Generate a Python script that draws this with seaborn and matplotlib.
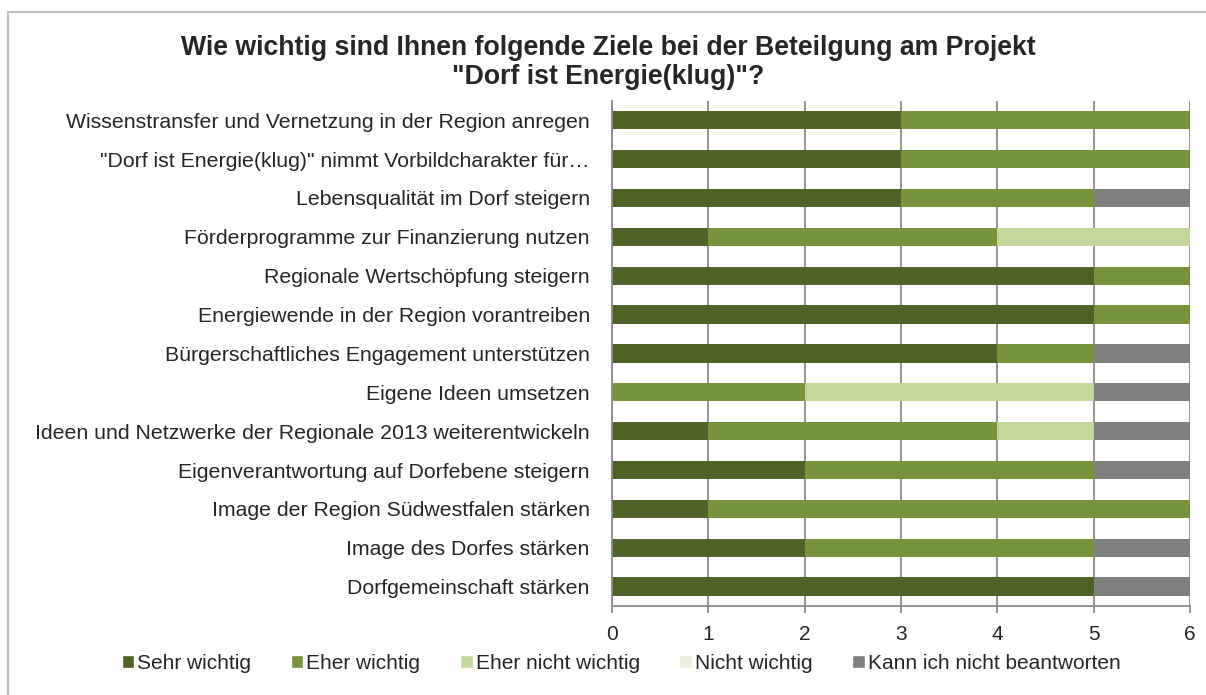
import numpy as np
import pandas as pd
import seaborn as sns
from matplotlib import pyplot as plt
from matplotlib.patches import Patch, Rectangle

goals = [
    'Wissenstransfer und Vernetzung in der Region anregen',
    '"Dorf ist Energie(klug)" nimmt Vorbildcharakter für…',
    'Lebensqualität im Dorf steigern',
    'Förderprogramme zur Finanzierung nutzen',
    'Regionale Wertschöpfung steigern',
    'Energiewende in der Region vorantreiben',
    'Bürgerschaftliches Engagement unterstützen',
    'Eigene Ideen umsetzen',
    'Ideen und Netzwerke der Regionale 2013 weiterentwickeln',
    'Eigenverantwortung auf Dorfebene steigern',
    'Image der Region Südwestfalen stärken',
    'Image des Dorfes stärken',
    'Dorfgemeinschaft stärken',
]
answers = ['Sehr wichtig', 'Eher wichtig', 'Eher nicht wichtig',
           'Nicht wichtig', 'Kann ich nicht beantworten']

sehr_wichtig = [3, 3, 3, 1, 5, 5, 4, 0, 1, 2, 1, 2, 5]
eher_wichtig = [3, 3, 2, 3, 1, 1, 1, 2, 3, 3, 5, 3, 0]
eher_nicht = [0, 0, 0, 2, 0, 0, 0, 3, 1, 0, 0, 0, 0]
nicht_wichtig = [0, 0, 0, 0, 0, 0, 0, 0, 0, 0, 0, 0, 0]
kann_nicht = [0, 0, 1, 0, 0, 0, 1, 1, 1, 1, 0, 1, 1]

colors = ['#4F6228', '#77933C', '#C3D69B', '#EBF1DE', '#808080']

df = pd.DataFrame({'Ziel': goals,
                   answers[0]: sehr_wichtig, answers[1]: eher_wichtig,
                   answers[2]: eher_nicht, answers[3]: nicht_wichtig,
                   answers[4]: kann_nicht})
cum = df[answers].cumsum(axis=1)
cum['Ziel'] = df['Ziel']

sns.set_style('white')
plt.rcParams['font.family'] = ['Liberation Sans', 'DejaVu Sans']

fig = plt.figure(figsize=(12.06, 6.95), dpi=100)
ax = fig.add_axes([0.5075, 0.128, 0.4792, 0.727])

# stacked: draw totals first, then smaller cumulative layers on top
for ans, col in reversed(list(zip(answers, colors))):
    sns.barplot(data=cum, y='Ziel', x=ans, color=col, orient='h',
                width=0.47, ax=ax, saturation=1, linewidth=0)

ax.set_xlim(0, 6)
ax.set_ylim(len(goals) - 0.5, -0.5)
ax.set_xticks(range(7))
ax.set_xlabel('')
ax.set_ylabel('')
ax.xaxis.grid(True, color='#8C8C8C', linewidth=1.3)
ax.set_axisbelow(True)
for s in ['top', 'right']:
    ax.spines[s].set_visible(False)
for s in ['left', 'bottom']:
    ax.spines[s].set_color('#8C8C8C')
    ax.spines[s].set_linewidth(1.3)

ax.tick_params(axis='y', which='major', length=0, pad=16, labelsize=15.3)
ax.set_yticks(np.arange(-0.5, len(goals), 1), minor=True)
ax.tick_params(axis='y', which='minor', length=5, color='#8C8C8C', width=1.3)
ax.tick_params(axis='x', length=5, color='#8C8C8C', width=1.3, pad=9,
               labelsize=15, bottom=True)

fig.suptitle('Wie wichtig sind Ihnen folgende Ziele bei der Beteilgung am Projekt\n'
             '"Dorf ist Energie(klug)"?', x=0.504, y=0.95,
             fontsize=19.2, fontweight='bold', linespacing=1.18)

handles = [Patch(facecolor=c, label=a) for a, c in zip(answers, colors)]
fig.legend(handles=handles, loc='center', bbox_to_anchor=(0.515, 0.045), ncol=5,
           frameon=False, fontsize=15, handlelength=0.6, handleheight=0.6,
           handletextpad=0.15, columnspacing=1.9)

fig.patches.append(Rectangle((8 / 1206, -0.01), 1.1, 1 - 12 / 695 + 0.01,
                             transform=fig.transFigure, fill=False,
                             edgecolor='#BFBFBF', linewidth=1.5))

fig.savefig('out.png', dpi=100)
